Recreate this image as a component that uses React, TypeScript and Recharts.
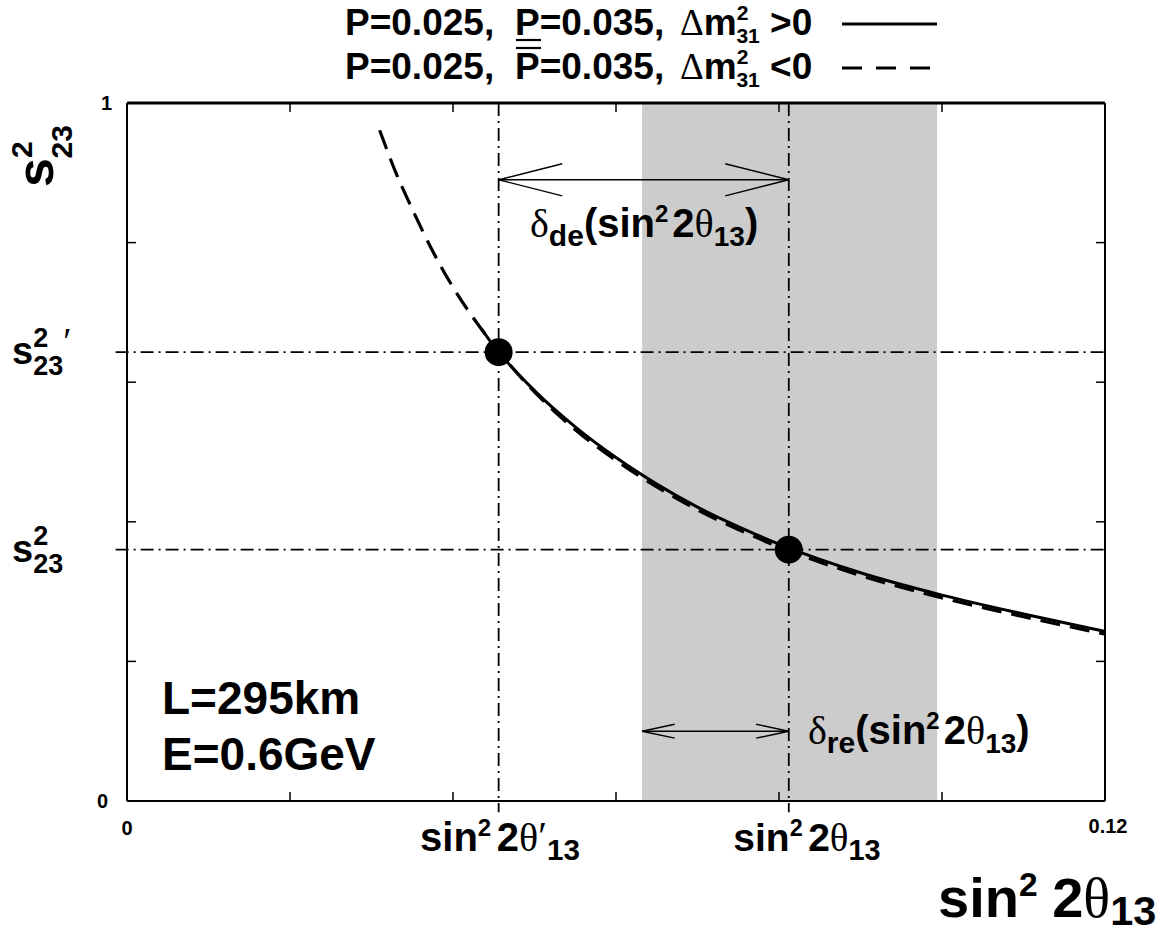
import React from "react";
import {
  ComposedChart,
  Line,
  Scatter,
  XAxis,
  YAxis,
  ReferenceLine,
  ReferenceArea,
} from "recharts";

// curve values (x = sin^2 2theta13, y = s23^2)
const solidX = [0.0435, 0.045, 0.05, 0.055, 0.06, 0.065, 0.07, 0.075, 0.08, 0.09, 0.1, 0.11, 0.12];
const solidY = [0.676, 0.652, 0.588, 0.536, 0.492, 0.454, 0.421, 0.393, 0.368, 0.327, 0.295, 0.268, 0.243];
const dashedX = [0.031, 0.033, 0.035, 0.0375, 0.04, 0.0425, 0.045, 0.05, 0.055, 0.06, 0.065, 0.07, 0.075, 0.08, 0.09, 0.1, 0.11, 0.12];
const dashedY = [0.961, 0.9, 0.848, 0.788, 0.736, 0.692, 0.653, 0.586, 0.532, 0.488, 0.45, 0.417, 0.389, 0.364, 0.323, 0.291, 0.264, 0.239];

// the two marked points and the shaded band
const markX = [0.0456, 0.0812];
const markY = [0.643, 0.36];
const bandX = [0.0632, 0.0994];

const xTicks = [0, 0.02, 0.04, 0.06, 0.08, 0.1, 0.12];
const yTicks = [0, 0.2, 0.4, 0.6, 0.8, 1];

// double arrows: [from, to, y, head length, head half-height]
const arrowDe = [0.0456, 0.0812, 0.89, 0.0078, 0.023];
const arrowRe = [0.0632, 0.0812, 0.1, 0.004, 0.01];

const W = 1167;
const H = 938;
const SANS = "'Liberation Sans', Arial, Helvetica, sans-serif";
const GREEK = "'Liberation Serif', 'DejaVu Serif', serif";
const DASHDOT = "13 5 2 5";

const solid = solidX.map((x, i) => ({ x, y: solidY[i] }));
const dashed = dashedX.map((x, i) => ({ x, y: dashedY[i] }));
const marks = markX.map((x, i) => ({ x, y: markY[i] }));

function arrowSegments(a: number[]) {
  const [from, to, y, hl, hh] = a;
  return [
    [{ x: from, y }, { x: to, y }],
    [{ x: from, y }, { x: from + hl, y: y + hh }],
    [{ x: from, y }, { x: from + hl, y: y - hh }],
    [{ x: to, y }, { x: to - hl, y: y + hh }],
    [{ x: to, y }, { x: to - hl, y: y - hh }],
  ];
}

const NoTick = () => <g />;

function SinTheta({ x, y, size, prime, anchor, gap = 0.14, sub = 0.22 }: { x: number; y: number; size: number; prime?: boolean; anchor?: string; gap?: number; sub?: number }) {
  return (
    <text x={x} y={y} fontSize={size} fontWeight="bold" textAnchor={anchor || "start"}>
      sin
      <tspan fontSize={size * 0.6} dy={-size * 0.38}>2</tspan>
      <tspan dy={size * 0.38} dx={size * gap}>2</tspan>
      <tspan fontFamily={GREEK} fontWeight="normal">θ</tspan>
      {prime && <tspan fontFamily={GREEK} fontWeight="normal" dy={-size * 0.05}>′</tspan>}
      <tspan fontSize={size * 0.74} dy={size * (prime ? sub + 0.05 : sub)}>13</tspan>
    </text>
  );
}

function DeltaLabel({ x, y, sub }: { x: number; y: number; sub: string }) {
  return (
    <text x={x} y={y} fontSize={40} fontWeight="bold">
      <tspan fontFamily={GREEK} fontWeight="normal">δ</tspan>
      <tspan fontSize={30} dy={9}>{sub}</tspan>
      <tspan dy={-9}>(sin</tspan>
      <tspan fontSize={24} dy={-15}>2</tspan>
      <tspan dy={15} dx={4}>2</tspan>
      <tspan fontFamily={GREEK} fontWeight="normal">θ</tspan>
      <tspan fontSize={28} dy={9}>13</tspan>
      <tspan dy={-9}>)</tspan>
    </text>
  );
}

function LegendRow({ y, sign, bar }: { y: number; sign: string; bar: "under" | "over" }) {
  const barY = bar === "under" ? y + 5 : y - 31;
  return (
    <g>
      <text x={345} y={y} fontSize={37} fontWeight="bold">P=0.025,</text>
      <text x={515} y={y} fontSize={37} fontWeight="bold">P=0.035,</text>
      <line x1={516} x2={541} y1={barY} y2={barY} stroke="#000" strokeWidth={2.2} />
      <text x={680} y={y} fontSize={37} fontWeight="bold">
        <tspan fontFamily={GREEK} fontWeight="normal">Δ</tspan>m
        <tspan fontSize={21} dy={-15}>2</tspan>
        <tspan fontSize={21} dx={-12} dy={23}>31</tspan>
        <tspan dy={-8}> {sign}0</tspan>
      </text>
    </g>
  );
}

function Overlay() {
  return (
    <svg width={W} height={H} style={{ position: "absolute", left: 0, top: 0, pointerEvents: "none" }} fontFamily={SANS}>
      {/* legend */}
      <LegendRow y={35} sign=">" bar="under" />
      <line x1={842} x2={937} y1={24} y2={24} stroke="#000" strokeWidth={3} />
      <LegendRow y={79} sign="<" bar="over" />
      <line x1={842} x2={937} y1={68} y2={68} stroke="#000" strokeWidth={3} strokeDasharray="20 14" />

      {/* axis numbers */}
      <text x={112} y={110} fontSize={20} fontWeight="bold" textAnchor="end">1</text>
      <text x={108} y={808} fontSize={20} fontWeight="bold" textAnchor="end">0</text>
      <text x={127} y={835} fontSize={20} fontWeight="bold" textAnchor="middle">0</text>
      <text x={1108} y={833} fontSize={20} fontWeight="bold" textAnchor="middle">0.12</text>

      {/* y title */}
      <text transform="translate(53,187) rotate(-90)" fontSize={52} fontWeight="bold">
        s
        <tspan fontSize={30} dy={-21}>2</tspan>
        <tspan fontSize={30} dx={-17} dy={40}>23</tspan>
      </text>

      {/* y labels */}
      <text x={12} y={364} fontSize={38} fontWeight="bold">
        s
        <tspan fontSize={27} dy={-17}>2</tspan>
        <tspan fontSize={27} dx={-15} dy={28}>23</tspan>
        <tspan fontFamily={GREEK} fontWeight="normal" fontSize={38} dy={-21}>′</tspan>
      </text>
      <text x={12} y={562} fontSize={38} fontWeight="bold">
        s
        <tspan fontSize={27} dy={-17}>2</tspan>
        <tspan fontSize={27} dx={-15} dy={28}>23</tspan>
      </text>

      {/* x labels */}
      <SinTheta x={500} y={851} size={40} prime anchor="middle" />
      <SinTheta x={807} y={851} size={39} anchor="middle" />
      <SinTheta x={938} y={917} size={56} gap={0.26} sub={0.14} />

      {/* delta labels */}
      <DeltaLabel x={530} y={237} sub="de" />
      <DeltaLabel x={808} y={744} sub="re" />

      {/* baseline info */}
      <text x={162} y={714} fontSize={46} fontWeight="bold">L=295km</text>
      <text x={162} y={770} fontSize={46} fontWeight="bold">E=0.6GeV</text>
    </svg>
  );
}

export default function App() {
  const axisLine = { stroke: "#000", strokeWidth: 2 };
  const tickLine = { stroke: "#000", strokeWidth: 1.5 };
  return (
    <div style={{ position: "absolute", left: 0, top: 0, width: W, height: H, background: "#fff" }}>
      <ComposedChart width={W} height={H} margin={{ top: 103, right: 62, bottom: 137, left: 127 }}>
        <XAxis xAxisId={0} type="number" dataKey="x" domain={[0, 0.12]} ticks={xTicks} allowDataOverflow
          mirror tickSize={9} tick={NoTick} axisLine={axisLine} tickLine={tickLine} />
        <XAxis xAxisId="top" orientation="top" type="number" dataKey="x" domain={[0, 0.12]} ticks={xTicks} allowDataOverflow
          mirror tickSize={9} tick={NoTick} axisLine={{ stroke: "#000", strokeWidth: 3 }} tickLine={tickLine} />
        <YAxis yAxisId={0} type="number" dataKey="y" domain={[0, 1]} ticks={yTicks} allowDataOverflow
          mirror tickSize={9} tick={NoTick} axisLine={axisLine} tickLine={tickLine} />
        <YAxis yAxisId="right" orientation="right" type="number" dataKey="y" domain={[0, 1]} ticks={yTicks} allowDataOverflow
          mirror tickSize={9} tick={NoTick} axisLine={axisLine} tickLine={tickLine} />

        <ReferenceArea x1={bandX[0]} x2={bandX[1]} y1={0} y2={1} fill="#cccccc" fillOpacity={1} stroke="none" />

        {markX.map((x) => (
          <ReferenceLine key={"v" + x} segment={[{ x, y: 1 }, { x, y: -0.016 }]} ifOverflow="visible"
            stroke="#000" strokeWidth={1.8} strokeDasharray={DASHDOT} />
        ))}
        {markY.map((y) => (
          <ReferenceLine key={"h" + y} segment={[{ x: -0.0014, y }, { x: 0.12, y }]} ifOverflow="visible"
            stroke="#000" strokeWidth={1.8} strokeDasharray={DASHDOT} />
        ))}
        {[...arrowSegments(arrowDe), ...arrowSegments(arrowRe)].map((seg, i) => (
          <ReferenceLine key={"a" + i} segment={seg} ifOverflow="visible" stroke="#000" strokeWidth={1.4} />
        ))}

        <Line data={dashed} dataKey="y" type="monotone" stroke="#000" strokeWidth={3.2} strokeDasharray="20 10"
          dot={false} activeDot={false} isAnimationActive={false} />
        <Line data={solid} dataKey="y" type="monotone" stroke="#000" strokeWidth={3}
          dot={false} activeDot={false} isAnimationActive={false} />
        <Scatter data={marks} dataKey="y" isAnimationActive={false}
          shape={(p: any) => <circle cx={p.cx} cy={p.cy} r={14} fill="#000" />} />
      </ComposedChart>
      <Overlay />
    </div>
  );
}
